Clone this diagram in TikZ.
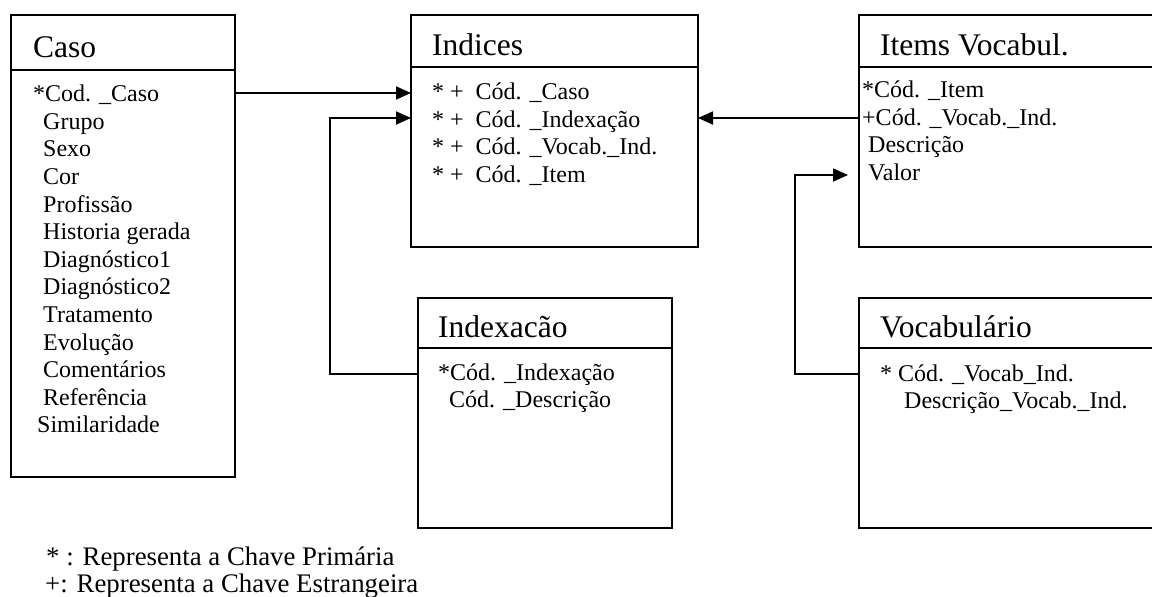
\documentclass[tikz,border=0pt]{standalone}
\usepackage{fontspec}
\setmainfont{Liberation Serif}
\usetikzlibrary{arrows.meta}
\begin{document}
\begin{tikzpicture}[x=1pt,y=-1pt,
  tbl/.style={draw, line width=1.8pt, rectangle, anchor=north west, inner sep=0pt, outer sep=0pt},
  rule/.style={line width=1.8pt},
  ttl/.style={anchor=base west, inner sep=0pt, font=\fontsize{31.5}{36}\selectfont},
  fld/.style={anchor=base west, inner sep=0pt, align=left, font=\fontsize{24}{27.6}\selectfont},
  lgd/.style={anchor=base west, inner sep=0pt, align=left, font=\fontsize{26.8}{27}\selectfont},
  link/.style={line width=1.8pt, -{Triangle[length=15pt,width=13pt]}}]
\useasboundingbox (0,0) rectangle (1152,597);
\clip (0,0) rectangle (1152,597);

% tables
\node[tbl, minimum width=224pt, minimum height=462pt] (caso) at (11,15) {};
\node[tbl, minimum width=287pt, minimum height=232pt] (indices) at (411,15) {};
\node[tbl, minimum width=320pt, minimum height=232pt] (items) at (859,15) {};
\node[tbl, minimum width=254pt, minimum height=230pt] (indexacao) at (418,298) {};
\node[tbl, minimum width=320pt, minimum height=230pt] (vocab) at (859,298) {};

% header separators
\draw[rule] (caso.west |- 0,70) -- (caso.east |- 0,70);
\draw[rule] (indices.west |- 0,67) -- (indices.east |- 0,67);
\draw[rule] (items.west |- 0,67) -- (items.east |- 0,67);
\draw[rule] (indexacao.west |- 0,348) -- (indexacao.east |- 0,348);
\draw[rule] (vocab.west |- 0,348) -- (vocab.east |- 0,348);

% titles
\node[ttl] (casoT) at (33,57) {Caso};
\node[ttl] (indicesT) at (432,55) {Indices};
\node[ttl] (itemsT) at (880,55) {Items Vocabul.};
\node[ttl] (indexacaoT) at (438,337) {Indexacão};
\node[ttl] (vocabT) at (880,337) {Vocabulário};

% attributes (each node is placed at the baseline of its last line)
\node[fld] (casoF) at (33,432.9) {*Cod. \_Caso\\
\hspace*{10pt}Grupo\\
\hspace*{10pt}Sexo\\
\hspace*{10pt}Cor\\
\hspace*{10pt}Profissão\\
\hspace*{10pt}Historia gerada\\
\hspace*{10pt}Diagnóstico1\\
\hspace*{10pt}Diagnóstico2\\
\hspace*{10pt}Tratamento\\
\hspace*{10pt}Evolução\\
\hspace*{10pt}Comentários\\
\hspace*{10pt}Referência\\
\hspace*{4pt}Similaridade};

\node[fld] (indicesF) at (432,182.5) {*~+~~Cód. \_Caso\\
*~+~~Cód. \_Indexação\\
*~+~~Cód. \_Vocab.\_Ind.\\
*~+~~Cód. \_Item};

\node[fld] (itemsF) at (862,180.5) {*Cód. \_Item\\
+Cód. \_Vocab.\_Ind.\\
\hspace*{6pt}Descrição\\
\hspace*{6pt}Valor};

\node[fld] (indexacaoF) at (438,407.6) {*Cód. \_Indexação\\
\hspace*{11pt}Cód. \_Descrição};

\node[fld] (vocabF) at (880,408.6) {* Cód. \_Vocab\_Ind.\\
\hspace*{24pt}Descrição\_Vocab.\_Ind.};

% relationships
\draw[link] (caso.east |- 0,93) -- (indices.west |- 0,93);
\draw[link] (indexacao.west |- 0,374) -- (330,374) |- (indices.west |- 0,118);
\draw[link] (items.west |- 0,118) -- (indices.east |- 0,118);
\draw[link, shorten >=11pt] (vocab.west |- 0,374) -- (795,374) |- (items.west |- 0,175);

% legend
\node[lgd] (legend) at (46,592) {* : Representa a Chave Primária\\
\hspace*{-1pt}+: Representa a Chave Estrangeira};
\end{tikzpicture}
\end{document}
